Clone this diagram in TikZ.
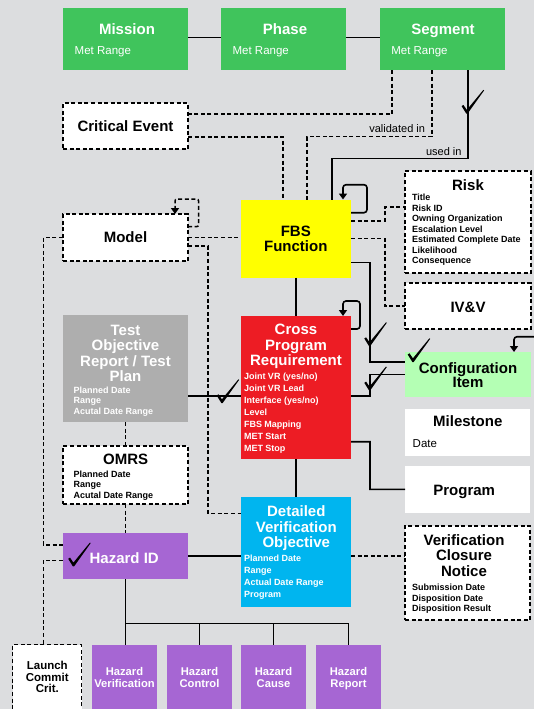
\documentclass[tikz,border=0pt]{standalone}
\usepackage{fontspec}
\setmainfont{Liberation Sans}
\usetikzlibrary{arrows.meta}
\definecolor{bgc}{RGB}{220,221,223}
\definecolor{grn}{RGB}{64,196,92}
\definecolor{ylw}{RGB}{255,255,0}
\definecolor{redc}{RGB}{237,28,36}
\definecolor{cyanc}{RGB}{0,181,239}
\definecolor{purp}{RGB}{166,102,211}
\definecolor{ltgrn}{RGB}{180,255,180}
\definecolor{gry}{RGB}{174,174,174}
\newcommand\txtlines[2]{\begin{tabular}[t]{@{}#1@{}}#2\end{tabular}}

\begin{document}
\begin{tikzpicture}[x=1pt,y=-1pt,
  box/.style={anchor=north west, inner sep=0pt, outer sep=0pt},
  solidbox/.style={box, fill=#1, draw=none},
  card/.style={box, fill=white, draw=black, line width=1.4pt, dash pattern=on 4pt off 2.6pt},
  lbl/.style={inner sep=0pt, outer sep=0pt},
  ttl/.style={lbl, anchor=base, font=\bfseries\fontsize{15}{15}\selectfont},
  itm/.style={lbl, anchor=base west, font=\bfseries\fontsize{9}{10.5}\selectfont},
  sub/.style={lbl, anchor=base west, font=\fontsize{11.5}{12}\selectfont},
  note/.style={lbl, anchor=base east, font=\fontsize{11}{12}\selectfont},
  ln/.style={line width=1.6pt},
  dln/.style={line width=1.5pt, dash pattern=on 4pt off 2.6pt},
  tip/.style={-{Triangle[length=6pt,width=8pt]}},
  tick/.pic={\fill[black] (-5,-7.2) -- (-3.2,-8.4) -- (0.2,-3.4) -- (16.7,-23.4) -- (17.5,-22.9) -- (0.9,0.4) -- (-0.3,0.4) -- cycle;}
]
\useasboundingbox (0,0) rectangle (534,709);
\fill[bgc] (0,0) rectangle (534,709);
\clip (0,0) rectangle (534,709);

% ---------- boxes ----------
\node[solidbox=grn, minimum width=125pt, minimum height=62pt] (mission) at (63,8.3) {};
\node[solidbox=grn, minimum width=125pt, minimum height=62pt] (phase) at (221,8.3) {};
\node[solidbox=grn, minimum width=125pt, minimum height=62pt] (seg) at (380,8.3) {};
\node[card, minimum width=125pt, minimum height=46pt] (ce) at (63,103) {};
\node[card, minimum width=125pt, minimum height=47pt] (model) at (63,214) {};
\node[solidbox=ylw, minimum width=110.5pt, minimum height=78pt] (fbs) at (240.5,199.5) {};
\node[card, minimum width=126pt, minimum height=102pt] (risk) at (405,171) {};
\node[card, minimum width=126pt, minimum height=46pt] (ivv) at (405,283) {};
\node[solidbox=gry, minimum width=125pt, minimum height=107pt] (tor) at (63,315) {};
\node[solidbox=redc, minimum width=110.5pt, minimum height=143pt] (cpr) at (240.5,316) {};
\node[solidbox=ltgrn, minimum width=126pt, minimum height=45pt] (ci) at (405,352) {};
\node[solidbox=white, minimum width=125pt, minimum height=46.5pt] (ms) at (405,409.3) {};
\node[solidbox=white, minimum width=125pt, minimum height=46.7pt] (prog) at (405,466) {};
\node[card, minimum width=125pt, minimum height=58pt] (omrs) at (63,446) {};
\node[solidbox=cyanc, minimum width=110.5pt, minimum height=110pt] (dvo) at (240.5,497) {};
\node[solidbox=purp, minimum width=125pt, minimum height=46pt] (hz) at (63,533) {};
\node[card, minimum width=125pt, minimum height=94pt] (vcn) at (405,526) {};
\node[card, minimum width=69pt, minimum height=72pt] (lcc) at (12.5,644.5) {};
\node[solidbox=purp, minimum width=65pt, minimum height=70pt] (hv) at (92,645) {};
\node[solidbox=purp, minimum width=65pt, minimum height=70pt] (hc) at (167,645) {};
\node[solidbox=purp, minimum width=65pt, minimum height=70pt] (hca) at (241,645) {};
\node[solidbox=purp, minimum width=65pt, minimum height=70pt] (hr) at (316,645) {};

% ---------- texts ----------
\node[ttl, text=white] (t-mission) at (127,35) {Mission};
\node[sub, text=white] (s-mission) at (74.7,55) {Met Range};
\node[ttl, text=white] (t-phase) at (285,35) {Phase};
\node[sub, text=white] (s-phase) at (232.6,55) {Met Range};
\node[ttl, text=white] (t-seg) at (443,35) {Segment};
\node[sub, text=white] (s-seg) at (391.3,55) {Met Range};
\node[ttl] (t-ce) at (125.5,131.4) {Critical Event};
\node[ttl] (t-model) at (125.5,242.7) {Model};
\node[ttl, font=\bfseries\fontsize{15}{15.3}\selectfont] (t-fbs) at (295.8,236) {\txtlines{c}{FBS\\Function}};
\node[ttl] (t-risk) at (468,190.7) {Risk};
\node[itm] (i-risk) at (412,200.5) {\txtlines{l}{Title\\Risk ID\\Owning Organization\\Escalation Level\\Estimated Complete Date\\Likelihood\\Consequence}};
\node[ttl] (t-ivv) at (468,312.4) {IV\&V};
\node[ttl, text=white] (t-tor) at (125.5,335.3) {\txtlines{c}{Test\\Objective\\Report / Test\\Plan}};
\node[itm, text=white] (i-tor) at (73.6,393) {\txtlines{l}{Planned Date\\Range\\Acutal Date Range}};
\node[ttl, text=white, font=\bfseries\fontsize{15}{15.3}\selectfont] (t-cpr) at (296,334.7) {\txtlines{c}{Cross\\Program\\Requirement}};
\node[itm, text=white, font=\bfseries\fontsize{9}{12.1}\selectfont] (i-cpr) at (244,379.3) {\txtlines{l}{Joint VR (yes/no)\\Joint VR Lead\\Interface (yes/no)\\Level\\FBS Mapping\\MET Start\\MET Stop}};
\node[ttl, font=\bfseries\fontsize{15}{14.2}\selectfont] (t-ci) at (468,373.3) {\txtlines{c}{Configuration\\Item}};
\node[ttl] (t-ms) at (467.8,426.7) {Milestone};
\node[sub] (s-ms) at (412.7,447.7) {Date};
\node[ttl] (t-prog) at (464.2,495) {Program};
\node[ttl] (t-omrs) at (125.7,464.3) {OMRS};
\node[itm] (i-omrs) at (73.7,477) {\txtlines{l}{Planned Date\\Range\\Acutal Date Range}};
\node[ttl, text=white] (t-dvo) at (296.3,516.7) {\txtlines{c}{Detailed\\Verification\\Objective}};
\node[itm, text=white, font=\bfseries\fontsize{9}{12}\selectfont] (i-dvo) at (244,561) {\txtlines{l}{Planned Date\\Range\\Actual Date Range\\Program}};
\node[ttl, anchor=base west, text=white] (t-hz) at (89.6,563) {Hazard ID};
\node[ttl, font=\bfseries\fontsize{15}{15.5}\selectfont] (t-vcn) at (464,545) {\txtlines{c}{Verification\\Closure\\Notice}};
\node[itm, font=\bfseries\fontsize{9}{10.3}\selectfont] (i-vcn) at (412,590.9) {\txtlines{l}{Submission Date\\Disposition Date\\Disposition Result}};
\node[ttl, font=\bfseries\fontsize{11.5}{11.7}\selectfont] (t-lcc) at (47.3,669.3) {\txtlines{c}{Launch\\Commit\\Crit.}};
\node[ttl, text=white, font=\bfseries\fontsize{11.2}{11.7}\selectfont] (t-hv) at (124.5,675.3) {\txtlines{c}{Hazard\\Verification}};
\node[ttl, text=white, font=\bfseries\fontsize{11.2}{11.7}\selectfont] (t-hc) at (199.5,675.3) {\txtlines{c}{Hazard\\Control}};
\node[ttl, text=white, font=\bfseries\fontsize{11.2}{11.7}\selectfont] (t-hca) at (273.5,675.3) {\txtlines{c}{Hazard\\Cause}};
\node[ttl, text=white, font=\bfseries\fontsize{11.2}{11.7}\selectfont] (t-hr) at (348.5,675.3) {\txtlines{c}{Hazard\\Report}};

% ---------- top row ----------
\draw[ln] ([yshift=1.6pt]mission.east) -- ([yshift=1.6pt]phase.west);
\draw[ln] ([yshift=1.6pt]phase.east) -- ([yshift=1.6pt]seg.west);

% segment links
\draw[dln] ([xshift=12pt]seg.south west) |- ([yshift=11.85pt]ce.east);
\draw[dln] ([xshift=52pt]seg.south west) |- (307,136.7) -- ([xshift=66.5pt]fbs.north west);
\node[note] (l-valid) at (425,132) {validated in};
\draw[dln] ([yshift=-10.85pt]ce.east) -| ([xshift=42.5pt]fbs.north west);
\draw[ln] ([xshift=88pt]seg.south west) |- (332,158.3) -- ([xshift=91.5pt]fbs.north west);
\node[note] (l-used) at (461.5,155.3) {used in};
\pic at (466.6,113.3) {tick};

% model links
\draw[dln, tip, rounded corners=2pt] ([yshift=10.8pt]model.east) -- (198.6,226.7) -- (198.6,199) -| ([xshift=112pt]model.north west);
\draw[dln] (model.east) -- (model.east -| fbs.west);
\draw[dln] ([yshift=-8.5pt]model.east) -| (208,513.3) -- ([yshift=38.7pt]dvo.west);
\draw[dln] (model.west) -| (43.3,545) -- ([yshift=11pt]hz.west);

% FBS links
\draw[ln, tip, rounded corners=3pt] ([yshift=25.8pt]fbs.east) -- (367,212.7) -- (367,184.7) -| ([xshift=102.5pt]fbs.north west);
\draw[dln] ([yshift=17.5pt]fbs.east) -| (385,207) -- ([yshift=15pt]risk.west);
\draw[dln] (fbs.east) -| (385,306) -- (ivv.west);
\draw[ln] ([yshift=-23.8pt]fbs.east) -| (370,361.7) -- ([yshift=12.8pt]ci.west);
\draw[ln] (fbs.south) -- (cpr.north);
\pic at (369.3,345.7) {tick};

% CPR links
\draw[ln, tip, rounded corners=3pt] ([yshift=58.5pt]cpr.east) -- (360,329) -- (360,301) -| ([xshift=102.5pt]cpr.north west);
\draw[ln] ([yshift=-8.2pt]cpr.east) -- (370,395.7) |- (ci.west);
\pic at (369.3,390) {tick};
\draw[ln] ([yshift=-54.2pt]cpr.east) -| (370,489.3) -- (prog.west);
\draw[ln] ([yshift=-27.2pt]tor.east) -- ([yshift=-8.2pt]cpr.west);
\pic at (221.7,402.7) {tick};
\draw[ln] (cpr.south) -- (dvo.north);

% configuration item feed from the right
\coordinate (ciin) at (540,336.7);
\draw[ln, tip, rounded corners=3pt] (ciin) -| ([xshift=109pt]ci.north west);
\pic at (412.7,361.7) {tick};

% left column
\draw[dln] (tor.south) -- (omrs.north);
\draw[dln] (omrs.south) -- (hz.north);
\draw[ln] (hz.east) -- (hz.east -| dvo.west);
\draw[dln] ([yshift=-4pt]dvo.east) -- ([yshift=17pt]vcn.west);
\draw[dln] ([yshift=-4.3pt]hz.west) -| ([xshift=30.8pt]lcc.north west);
\pic at (73.2,566) {tick};

% hazard tree
\coordinate (bus) at ([yshift=-44.3pt]hz.south);
\draw[ln] (hz.south) -- (hz.south |- hv.north);
\draw[ln] (bus) -| (hr.north);
\draw[ln] (bus -| hc.north) -- (hc.north);
\draw[ln] (bus -| hca.north) -- (hca.north);
\end{tikzpicture}
\end{document}
